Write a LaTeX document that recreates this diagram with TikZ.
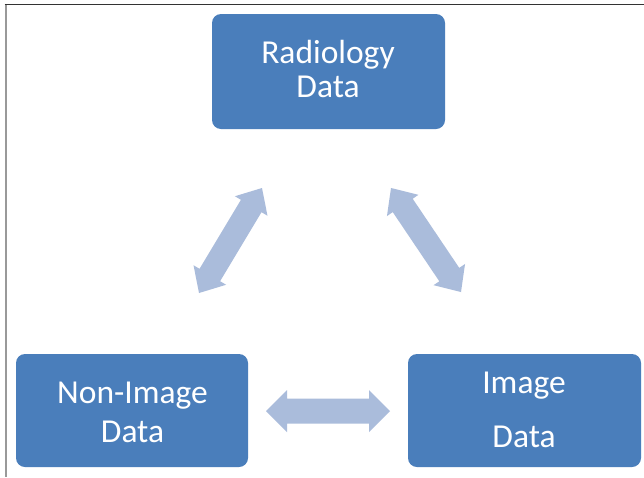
\documentclass[tikz,border=0pt]{standalone}
\usepackage{fontspec}
\setmainfont{Carlito}
\usetikzlibrary{calc}
\definecolor{boxblue}{HTML}{4A7EBB}
\definecolor{arrowblue}{HTML}{AABCDB}
\definecolor{frameleft}{HTML}{999999}
\definecolor{frametop}{HTML}{333333}
\newcommand\blockarrow[4]{% #1 start, #2 end, #3 head half width, #4 shaft half width
  \fill[arrowblue] let \p1=(#1), \p2=(#2), \n1={atan2(\y2-\y1,\x2-\x1)}, \n2={veclen(\x2-\x1,\y2-\y1)} in
    [shift={(\p1)}, rotate=\n1]
    (0pt,0pt) -- (21pt,#3) -- (21pt,#4) -- (\n2-21pt,#4) -- (\n2-21pt,#3) -- (\n2,0pt)
    -- (\n2-21pt,-#3) -- (\n2-21pt,-#4) -- (21pt,-#4) -- (21pt,-#3) -- cycle;
}
\begin{document}
\begin{tikzpicture}[x=1pt,y=-1pt,
  box/.style={fill=boxblue, rounded corners=9pt, inner sep=0pt},
  txt/.style={text=white, font=\fontsize{33.5}{34}\selectfont, anchor=base, inner sep=0pt}]
\useasboundingbox (0,0) rectangle (644,477);
\fill[white] (0,0) rectangle (644,477);
% frame
\draw[frameleft, line width=2pt] (5.7,4) -- (5.7,477);
\draw[frametop, line width=1.3pt] (4.7,4.5) -- (644,4.5);
% boxes
\node[box, minimum width=233pt, minimum height=115pt] (rad) at (328.5,71.5) {};
\node[box, minimum width=232pt, minimum height=113pt] (non) at (132,410.5) {};
\node[box, minimum width=233pt, minimum height=113pt] (img) at (524.5,410.5) {};
% texts
\node[txt] (radA) at (328,63) {Radiology};
\node[txt] (radB) at (328,97) {Data};
\node[txt] (nonA) at (132.5,403) {Non-Image};
\node[txt] (nonB) at (132.5,442) {Data};
\node[txt] (imgA) at (524,393) {Image};
\node[txt] (imgB) at (524,447) {Data};
% arrow tips
\coordinate (l1) at (199,293);
\coordinate (l2) at (262,188);
\coordinate (r1) at (391,188);
\coordinate (r2) at (461,292);
\coordinate (h1) at (266,411);
\coordinate (h2) at (390,411);
\blockarrow{l1}{l2}{19pt}{12pt}
\blockarrow{r1}{r2}{19pt}{12pt}
\blockarrow{h1}{h2}{21pt}{12.5pt}
\end{tikzpicture}
\end{document}
